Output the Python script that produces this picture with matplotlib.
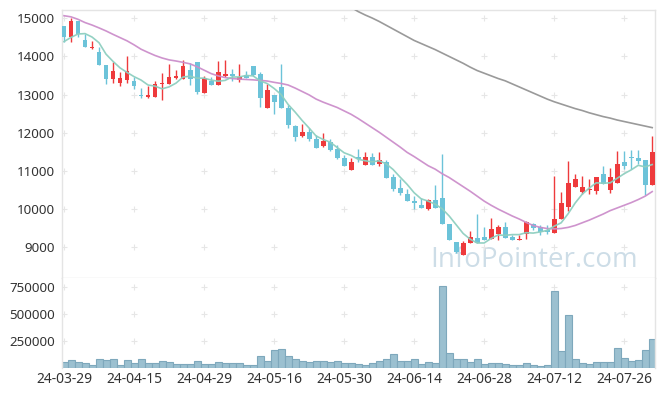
import numpy as np
import pandas as pd
import matplotlib
matplotlib.use("Agg")
import matplotlib.pyplot as plt

# ---------------- data ----------------
holidays = ["2024-04-10", "2024-05-01", "2024-05-06", "2024-05-15", "2024-06-06"]
dates = pd.bdate_range("2024-03-29", "2024-08-01", freq="C", holidays=holidays)

open_ = [14800, 14520, 14930, 14430, 14210, 14120, 13780, 13420, 13310, 13390,
         13360, 13000, 12940, 12940, 13270, 13280, 13430, 13420, 13640, 13850,
         13050, 13360, 13250, 13490, 13540, 13390, 13500, 13750, 13540, 12650,
         13000, 13200, 12650, 12180, 11910, 12020, 11830, 11650, 11740, 11570,
         11320, 11030, 11360, 11160, 11360, 11170, 11240, 10830, 10550, 10380,
         10210, 10100, 9990, 10230, 10280, 9610, 9130, 8780, 9110, 9240,
         9250, 9210, 9340, 9530, 9250, 9190, 9340, 9600, 9520, 9440,
         9360, 9730, 10040, 10560, 10450, 10480, 10460, 10900, 10480, 10670,
         11240, 11370, 11330, 11280, 10630]
high = [14800, 15000, 14940, 14600, 14400, 14240, 13780, 13860, 13580, 14000,
        13470, 13180, 13220, 13360, 13560, 13800, 13640, 13900, 13840, 13850,
        13480, 13470, 13880, 13900, 13660, 13800, 13620, 13750, 13580, 13280,
        13000, 13800, 12720, 12210, 12230, 12110, 11940, 11980, 11840, 11670,
        11420, 11340, 11560, 11490, 11470, 11490, 11270, 10920, 10770, 10510,
        10340, 10280, 10250, 10620, 11430, 9610, 9130, 9160, 9410, 9860,
        9520, 9750, 9560, 9650, 9320, 9320, 9670, 9620, 9560, 9560,
        10850, 10450, 11260, 10900, 10870, 10780, 10840, 11130, 11070, 11510,
        11510, 11540, 11550, 11280, 11900]
low = [14380, 14370, 14520, 14250, 14200, 13780, 13270, 13310, 13230, 13310,
       13140, 12900, 12910, 12930, 12860, 13280, 13420, 13410, 13250, 13010,
       13040, 13260, 13250, 13460, 13360, 13340, 13440, 13480, 12660, 12650,
       12500, 12650, 12110, 11790, 11880, 11780, 11590, 11630, 11520, 11300,
       11110, 11030, 11230, 11160, 11160, 11110, 10820, 10470, 10350, 10190,
       10000, 10030, 9960, 10030, 9590, 9170, 8840, 8780, 9090, 9090,
       9170, 9210, 9170, 9240, 9180, 9170, 9200, 9430, 9320, 9340,
       9360, 9730, 9950, 10560, 10390, 10390, 10390, 10650, 10410, 10670,
       11040, 11040, 11180, 10350, 10630]
close = [14520, 14930, 14590, 14260, 14250, 13780, 13410, 13630, 13430, 13630,
         13230, 12960, 12980, 13280, 13310, 13460, 13490, 13750, 13420, 13060,
         13430, 13260, 13580, 13540, 13480, 13460, 13440, 13510, 12920, 13120,
         12810, 12650, 12210, 11890, 12010, 11820, 11600, 11780, 11550, 11320,
         11110, 11230, 11300, 11360, 11160, 11270, 10820, 10530, 10400, 10190,
         10150, 10030, 10220, 10030, 9590, 9180, 8850, 9110, 9260, 9100,
         9180, 9460, 9530, 9240, 9180, 9210, 9660, 9490, 9390, 9400,
         9730, 10150, 10670, 10780, 10580, 10500, 10840, 10650, 10840, 11180,
         11110, 11320, 11260, 10630, 11500]
volume = [49400, 67900, 49400, 40100, 21600, 77200, 67900, 77200, 27800, 67900,
          40100, 77200, 40100, 40100, 58600, 49400, 30900, 30900, 30900, 58600,
          30900, 30900, 49400, 40100, 40100, 40100, 27800, 27800, 111100, 58600,
          160500, 169700, 111100, 83300, 58600, 49400, 58600, 58600, 49400, 58600,
          40100, 40100, 37000, 27800, 46300, 64800, 83300, 129600, 64800, 64800,
          83300, 37000, 55500, 46300, 759000, 138900, 83300, 83300, 55500, 83300,
          37000, 46300, 46300, 37000, 27800, 27800, 46300, 27800, 18500, 27800,
          712900, 151200, 484500, 83300, 46300, 37000, 55500, 55500, 55500, 185200,
          92600, 64800, 74100, 160500, 268500]

ma5 = [14390, 14500, 14590, 14600, 14510, 14360, 14060, 13870, 13700, 13580,
       13470, 13380, 13250, 13220, 13150, 13200, 13300, 13460, 13480, 13430,
       13430, 13380, 13350, 13370, 13460, 13460, 13500, 13490, 13360, 13290,
       13160, 13000, 12740, 12540, 12320, 12120, 11910, 11820, 11750, 11610,
       11470, 11400, 11300, 11260, 11230, 11260, 11180, 11030, 10830, 10640,
       10420, 10260, 10200, 10120, 10000, 9810, 9580, 9350, 9200, 9100,
       9100, 9220, 9310, 9300, 9320, 9320, 9370, 9360, 9390, 9430,
       9540, 9630, 9870, 10150, 10380, 10540, 10680, 10670, 10680, 10800,
       10920, 11020, 11140, 11100, 11160]
ma20 = [15070, 15040, 14975, 14890, 14825, 14750, 14670, 14580, 14495, 14410,
        14305, 14190, 14105, 14025, 13960, 13910, 13880, 13845, 13805, 13730,
        13640, 13550, 13490, 13445, 13420, 13405, 13395, 13385, 13370, 13355,
        13320, 13290, 13250, 13170, 13080, 12990, 12880, 12800, 12730, 12660,
        12570, 12480, 12370, 12250, 12130, 12010, 11880, 11750, 11620, 11480,
        11370, 11250, 11130, 11040, 10920, 10820, 10700, 10580, 10460, 10330,
        10200, 10090, 9990, 9900, 9810, 9730, 9640, 9560, 9510, 9480,
        9470, 9480, 9510, 9560, 9630, 9700, 9780, 9860, 9950, 10020,
        10090, 10160, 10240, 10330, 10450]
ma60 = [np.nan] * 40 + [
        15390, 15290, 15180, 15090, 15010, 14920, 14820, 14720, 14620, 14520,
        14420, 14340, 14260, 14180, 14090, 14000, 13910, 13820, 13720, 13630,
        13560, 13490, 13420, 13360, 13280, 13200, 13120, 13040, 12960, 12880,
        12810, 12750, 12690, 12630, 12580, 12520, 12470, 12420, 12380, 12330,
        12290, 12250, 12210, 12170, 12130]

price_ticks = [9000, 10000, 11000, 12000, 13000, 14000, 15000]
volume_ticks = [250000, 500000, 750000]
watermark = "InfoPointer.com"

# ---------------- style ----------------
UP = "#ee3a3c"
DOWN = "#6cc3d9"
TXT = "#333333"
SPINE = "#e4e4e4"
GRIDC = "#e6e6e6"
plt.rcParams["font.family"] = ["Noto Sans", "DejaVu Sans"]

x = np.arange(len(dates))
o = np.array(open_, float)
h = np.array(high, float)
l = np.array(low, float)
c = np.array(close, float)
up = c >= o
colors = np.where(up, UP, DOWN)

fig = plt.figure(figsize=(6.65, 3.96), dpi=100)
L, W = 61.7 / 665, (655 - 61.7) / 665
ax = fig.add_axes([L, (396 - 278) / 396, W, (278 - 10) / 396])
axv = fig.add_axes([L, (396 - 367.5) / 396, W, (367.5 - 278) / 396], sharex=ax)

# watermark, sized to span the reference width (~208 px)
wm = ax.text(0.621, 0.042, watermark, transform=ax.transAxes, ha="left", va="baseline",
             fontsize=22, color="#cddde7", family=["Open Sans", "Roboto"], zorder=0)
fig.canvas.draw()
wpx = wm.get_window_extent(renderer=fig.canvas.get_renderer()).width
wm.set_fontsize(22 * 208.0 / wpx)

# grid "+" marks
xt = x[::10]
for yv in price_ticks:
    ax.plot(xt, [yv] * len(xt), ls="none", marker="+", ms=4, mew=0.8,
            color=GRIDC, zorder=0.5)
for yv in volume_ticks:
    axv.plot(xt, [yv] * len(xt), ls="none", marker="+", ms=4, mew=0.8,
             color=GRIDC, zorder=0.5)

# candles
ax.vlines(x, l, h, colors=colors, linewidth=1.0, zorder=2)
body_bottom = np.minimum(o, c)
body_h = np.maximum(np.abs(c - o), 25)
ax.bar(x, body_h, bottom=body_bottom, width=0.7, color=colors, linewidth=0, zorder=3)

# moving averages
ax.plot(x, ma60, color="#9a9a9a", lw=1.2, zorder=4)
ax.plot(x, ma20, color="#cc8ecb", lw=1.2, alpha=0.95, zorder=4)
ax.plot(x, ma5, color="#8ecfc0", lw=1.2, alpha=0.95, zorder=4)

# volume
axv.bar(x, volume, width=1.0, color="#9bc0d0", edgecolor="#7ea8bc", linewidth=0.8, zorder=2)

# axes
ax.set_xlim(-0.33, 84.4)
ax.set_ylim(8180, 15220)
axv.set_ylim(0, 832000)

ax.set_yticks(price_ticks)
ax.set_yticklabels([str(v) for v in price_ticks])
axv.set_yticks(volume_ticks)
axv.set_yticklabels([str(v) for v in volume_ticks])
axv.set_xticks(xt)
axv.set_xticklabels([d.strftime("%y-%m-%d") for d in dates[::10]])
ax.tick_params(axis="x", labelbottom=False, length=0)
for a in (ax, axv):
    a.tick_params(axis="y", length=0, pad=5, labelsize=9.6, labelcolor=TXT)
    for s in a.spines.values():
        s.set_color(SPINE)
        s.set_linewidth(1.0)
axv.tick_params(axis="x", length=0, pad=3, labelsize=10, labelcolor=TXT)
axv.spines["bottom"].set_visible(False)
axv.spines["top"].set_visible(False)

fig.savefig("out.png", dpi=100)
